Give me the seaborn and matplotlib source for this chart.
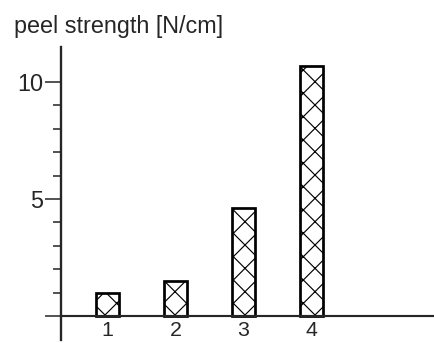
import matplotlib
matplotlib.use("Agg")
import matplotlib.pyplot as plt
import seaborn as sns

samples = ["1", "2", "3", "4"]
peel_strength = [1.0, 1.5, 4.6, 10.7]
major_ticks = [0, 5, 10]
major_labels = ["", "5", "10"]
minor_ticks = [1, 2, 3, 4, 6, 7, 8, 9]

sns.set_style("ticks")
plt.rcParams["font.family"] = ["Liberation Sans", "DejaVu Sans"]
plt.rcParams["hatch.linewidth"] = 1.2

DPI = 70
fig = plt.figure(figsize=(434 / DPI, 343 / DPI), dpi=DPI)
ax = fig.add_axes([61 / 434, 3 / 343, 373 / 434, 293 / 343])

sns.barplot(x=samples, y=peel_strength, ax=ax, width=0.34,
            color="white", edgecolor="black", linewidth=2.8)
for bar in ax.patches:
    bar.set_hatch("x")

ax.set_xlim(-0.684, 4.80)
ax.set_ylim(-1.026, 11.496)

sns.despine(ax=ax)
ax.spines["bottom"].set_position(("data", 0))
ax.spines["bottom"].set_linewidth(2.2)
ax.spines["left"].set_linewidth(2.4)

ax.set_yticks(major_ticks, major_labels)
ax.set_yticks(minor_ticks, minor=True)
ax.tick_params(axis="y", which="major", length=16, width=1.6, pad=2, labelsize=24)
ax.tick_params(axis="y", which="minor", length=8, width=1.6)
ax.tick_params(axis="x", length=0, pad=5, labelsize=22)
ax.set_xlabel("")
ax.set_ylabel("")

fig.text(14 / 434, 1 - 33 / 343, "peel strength [N/cm]", fontsize=24,
         ha="left", va="baseline")

fig.savefig("out.png", dpi=DPI, facecolor="white")
